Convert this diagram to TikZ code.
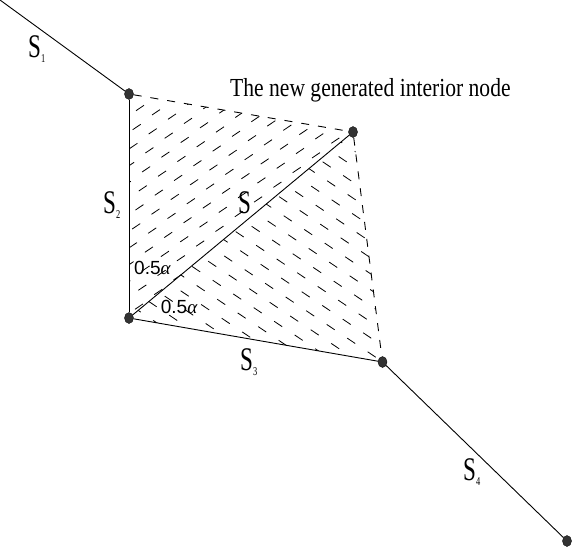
\documentclass[tikz,border=0pt]{standalone}
\usepackage{fontspec}
\setmainfont{Liberation Serif}
\newfontfamily\segfont[FakeStretch=0.7]{Liberation Serif}
\newfontfamily\notefont[FakeStretch=0.83]{Liberation Serif}
\newfontfamily\anglefont{Liberation Sans}
\usetikzlibrary{shapes.geometric,backgrounds}
\definecolor{ink}{HTML}{000000}
\definecolor{dotfill}{HTML}{333333}
\newcommand{\seg}[1]{{\segfont\fontsize{33}{33}\selectfont S}\raisebox{-5pt}{\segfont\fontsize{12}{12}\selectfont #1}}
\newcommand{\halfang}{{\anglefont\fontsize{19}{19}\selectfont 0.5}{\fontsize{19}{19}\selectfont\itshape α}}

\begin{document}
\begin{tikzpicture}[x=1pt,y=-1pt,
  vtx/.style={ellipse,draw=ink,fill=dotfill,minimum width=9pt,minimum height=11pt,inner sep=0pt},
  edge/.style={ink,line width=0.9pt},
  dashedge/.style={ink,line width=0.9pt,dash pattern=on 8pt off 9pt},
  hatch/.style={ink,line width=0.8pt},
  lbl/.style={inner sep=0pt,anchor=base west}]
  \useasboundingbox (0,0) rectangle (576,549);
  % the chain of segments and its vertices
  \coordinate (v0) at (0,0);
  \node[vtx] (v1) at (129,94) {};
  \node[vtx] (v2) at (129,318) {};
  \node[vtx] (vnew) at (353,132) {};
  \node[vtx] (v3) at (382.5,362) {};
  \node[vtx] (v4) at (567,541) {};
  \draw[edge] (v0) -- (v1);
  \draw[edge] (v1) -- (v2);
  \draw[edge] (v2) -- (vnew);
  \draw[edge] (v2) -- (v3);
  \draw[edge] (v3) -- (v4);
  \draw[dashedge] (v1) -- (vnew);
  \draw[dashedge] (vnew) -- (v3);
  % hatching of the two new elements
  \begin{scope}[on background layer]
    \begin{scope}
      \clip (v1.center) -- (vnew.center) -- (v2.center) -- cycle;
      \foreach \i in {-4,...,17} \foreach \j in {-6,...,13}
        \draw[hatch] ({136+16*(\i)-3.3*(\j)},{110.7+4.3*(\i)+19*(\j)}) -- ++(8,-5.4);
    \end{scope}
    \begin{scope}
      \clip (v2.center) -- (vnew.center) -- (v3.center) -- cycle;
      \foreach \i in {-12,...,9} \foreach \j in {-8,...,11}
        \draw[hatch] ({267.7+16*(\i)+4.5*(\j)},{221-5.3*(\i)+19*(\j)}) -- ++(8,5.4);
    \end{scope}
  \end{scope}
  % labels
  \node[lbl] (s1) at (28,57) {\seg{1}};
  \node[lbl] (s2) at (103,213.3) {\seg{2}};
  \node[lbl] (s) at (238,213.3) {{\segfont\fontsize{33}{33}\selectfont S}};
  \node[lbl] (s3) at (240,370) {\seg{3}};
  \node[lbl] (s4) at (463,480) {\seg{4}};
  \node[lbl] (ang1) at (134,274) {\halfang};
  \node[lbl] (ang2) at (160.7,313) {\halfang};
  \node[lbl] (note) at (230,96.7) {\notefont\fontsize{26}{26}\selectfont The new generated interior node};
\end{tikzpicture}
\end{document}
